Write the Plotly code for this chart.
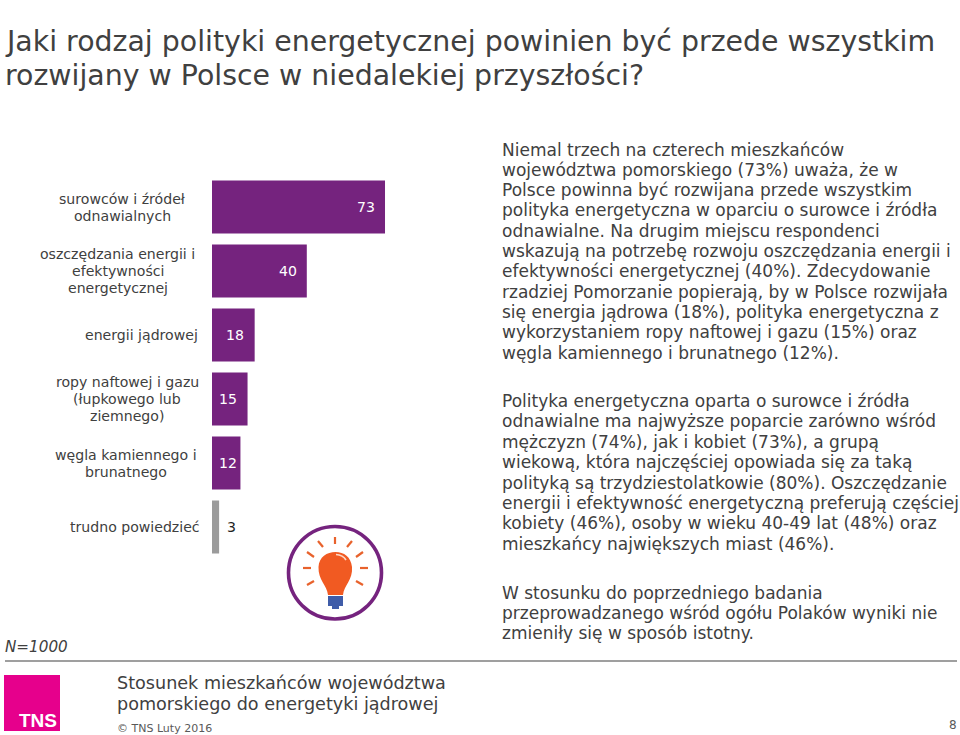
import plotly.graph_objects as go

W, H = 960, 735
PURPLE = "#75237E"
GRAY = "#9B9B9B"
TEXT = "#404040"

categories = ["surowców i źródeł<br>odnawialnych",
              "oszczędzania energii i<br>efektywności<br>energetycznej",
              "energii jądrowej",
              "ropy naftowej i gazu<br>(łupkowego lub<br>ziemnego)",
              "węgla kamiennego i<br>brunatnego",
              "trudno powiedzieć"]
values = [73, 40, 18, 15, 12, 3]
bar_colors = [PURPLE] * 5 + [GRAY]
category_centers = [122, 117.5, 141, 127, 126, 134.5]
label_shift = [-8, -8, -9, -8.5, -1.5, 5.5]

title_lines = ["Jaki rodzaj polityki energetycznej powinien być przede wszystkim",
               "rozwijany w Polsce w niedalekiej przyszłości?"]
title_y = [41, 75]
body_lines = [
    "Niemal trzech na czterech mieszkańców",
    "województwa pomorskiego (73%) uważa, że w",
    "Polsce powinna być rozwijana przede wszystkim",
    "polityka energetyczna w oparciu o surowce i źródła",
    "odnawialne. Na drugim miejscu respondenci",
    "wskazują na potrzebę rozwoju oszczędzania energii i",
    "efektywności energetycznej (40%). Zdecydowanie",
    "rzadziej Pomorzanie popierają, by w Polsce rozwijała",
    "się energia jądrowa (18%), polityka energetyczna z",
    "wykorzystaniem ropy naftowej i gazu (15%) oraz",
    "węgla kamiennego i brunatnego (12%).",
    "Polityka energetyczna oparta o surowce i źródła",
    "odnawialne ma najwyższe poparcie zarówno wśród",
    "mężczyzn (74%), jak i kobiet (73%), a grupą",
    "wiekową, która najczęściej opowiada się za taką",
    "polityką są trzydziestolatkowie (80%). Oszczędzanie",
    "energii i efektywność energetyczną preferują częściej",
    "kobiety (46%), osoby w wieku 40-49 lat (48%) oraz",
    "mieszkańcy największych miast (46%).",
    "W stosunku do poprzedniego badania",
    "przeprowadzanego wśród ogółu Polaków wyniki nie",
    "zmieniły się w sposób istotny.",
]
body_y = [150, 170, 190, 210, 231, 251, 271, 292, 312, 332, 353,
          401, 421, 442, 462, 483, 503, 523, 544,
          593, 613, 633]
footer_lines = ["Stosunek mieszkańców województwa", "pomorskiego do energetyki jądrowej"]
footer_y = [683, 704]


def px(x):
    return x / W


def py(y):
    return 1 - y / H


fig = go.Figure(go.Bar(y=categories, x=values, orientation="h",
                       marker=dict(color=bar_colors, line_width=0),
                       width=53 / 64, hoverinfo="skip"))

ann = []


def note(x, y, text, size, font="DejaVu Sans", color=TEXT, anchor="left"):
    ann.append(dict(x=px(x), y=py(y), xref="paper", yref="paper", text=text, showarrow=False,
                    xanchor=anchor, yanchor="middle", align=anchor,
                    font=dict(family=font, size=size, color=color), borderpad=0, borderwidth=0))


for c, v, cx, s in zip(categories, values, category_centers, label_shift):
    parts = c.split("<br>")
    for i, part in enumerate(parts):
        ann.append(dict(x=px(cx), xref="paper", y=c, yref="y", text=part, showarrow=False, xanchor="center",
                        yshift=((len(parts) - 1) / 2 - i) * 17, align="center",
                        font=dict(family="DejaVu Sans", size=14.1, color=TEXT)))
    dark = v == values[-1]
    ann.append(dict(x=v, xref="x", y=c, yref="y", text=str(v), showarrow=False,
                    xanchor="left" if dark else "right", xshift=s,
                    font=dict(family="DejaVu Sans", size=14.1, color="#222222" if dark else "white")))

for t, y in zip(title_lines, title_y):
    note(5, y, t, 28.4)
for t, y in zip(body_lines, body_y):
    note(502, y, t, 17)
for t, y in zip(footer_lines, footer_y):
    note(117, y, t, 17.6)
note(5, 647, "<i>N=1000</i>", 15.2)
note(117, 728, "© TNS Luty 2016", 11, color="#595959")
note(957, 725, "8", 12, color="#595959", anchor="right")
note(57, 720, "<b>TNS</b>", 19, font="Liberation Sans", color="white", anchor="right")

shapes = [
    dict(type="line", xref="paper", yref="paper", x0=px(5), x1=px(957), y0=py(661), y1=py(661),
         line=dict(color="#7F7F7F", width=1.3)),
    dict(type="rect", xref="paper", yref="paper", x0=px(4), x1=px(60), y0=py(675), y1=py(731),
         fillcolor="#E6008C", line_width=0, layer="below"),
    dict(type="circle", xref="paper", yref="paper", x0=px(288.5), x1=px(381.5), y0=py(526.5), y1=py(619),
         line=dict(color=PURPLE, width=3.6), fillcolor="white"),
    # bulb base
    dict(type="rect", xref="paper", yref="paper", x0=px(328), x1=px(343), y0=py(596), y1=py(606),
         fillcolor="#3F5CA8", line_width=0),
    dict(type="rect", xref="paper", yref="paper", x0=px(332), x1=px(339), y0=py(606), y1=py(609),
         fillcolor="#3F5CA8", line_width=0),
]
# bulb glass
d = (f"M {px(328)} {py(595)} L {px(343)} {py(595)} "
     f"C {px(344)} {py(585)} {px(353)} {py(580)} {px(352)} {py(567)} "
     f"C {px(351)} {py(557)} {px(344)} {py(552)} {px(335.5)} {py(552)} "
     f"C {px(327)} {py(552)} {px(319)} {py(557)} {px(318.5)} {py(567)} "
     f"C {px(318)} {py(580)} {px(327)} {py(585)} {px(328)} {py(595)} Z")
shapes.append(dict(type="path", xref="paper", yref="paper", path=d, fillcolor="#F15A22", line_width=0))
# highlight
d2 = (f"M {px(336)} {py(554.5)} Q {px(343)} {py(555)} {px(346)} {py(560)}")
shapes.append(dict(type="path", xref="paper", yref="paper", path=d2, line=dict(color="#FBD9C8", width=1.6)))
# rays, read from the icon
rays = [(335, 537, 335, 544), (318, 541, 323, 547), (352, 541, 347, 547),
        (307, 552, 314, 557), (363, 552, 356, 557), (303, 568, 311, 568),
        (360, 568, 368, 568), (307, 585, 314, 581), (363, 585, 356, 581)]
for x0, y0, x1, y1 in rays:
    shapes.append(dict(type="line", xref="paper", yref="paper", x0=px(x0), y0=py(y0), x1=px(x1), y1=py(y1),
                       line=dict(color="#E8622C", width=2.2)))

fig.update_layout(
    width=W, height=H, autosize=False,
    margin=dict(l=0, r=0, t=0, b=0),
    paper_bgcolor="white", plot_bgcolor="rgba(0,0,0,0)",
    showlegend=False, annotations=ann, shapes=shapes,
    xaxis=dict(domain=[px(212), px(449)], range=[0, 100], visible=False),
    yaxis=dict(domain=[py(559), py(175)], autorange="reversed", visible=False),
)
fig.write_html("out.html", post_script="document.body.style.margin='0';", config=dict(displayModeBar=False))
